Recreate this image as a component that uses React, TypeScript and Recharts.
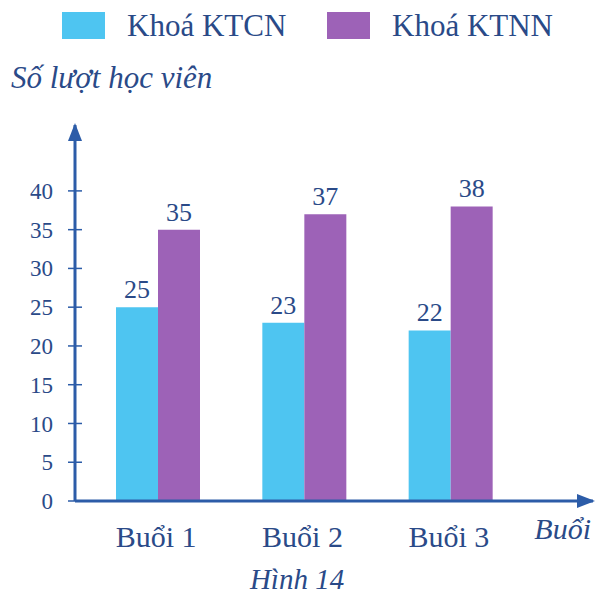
import React from 'react';
import { BarChart, Bar, XAxis, YAxis, LabelList } from 'recharts';

const sessions = ['Buổi 1', 'Buổi 2', 'Buổi 3'];
const ktcn = [25, 23, 22];
const ktnn = [35, 37, 38];
const yTicks = [0, 5, 10, 15, 20, 25, 30, 35, 40];
const seriesNames = ['Khoá KTCN', 'Khoá KTNN'];
const seriesColors = ['#4ec5f1', '#9d62b7'];
const yTitle = 'Số lượt học viên';
const xTitle = 'Buổi';
const caption = 'Hình 14';

const data = sessions.map((s, i) => ({ name: s, ktcn: ktcn[i], ktnn: ktnn[i] }));

const TEXT = '#2a4a88';
const AXIS = '#2c5ca8';
const FONT = "'Liberation Serif'";

const YTick = (props: any) => {
  const { x, y, payload } = props;
  return (
    <g>
      <line x1={x - 7} x2={x + 7} y1={y} y2={y} stroke={AXIS} strokeWidth={1.5} />
      <text x={x - 22} y={y} dy="0.35em" textAnchor="end" fill={TEXT} fontSize={23} style={{ fontFamily: FONT }}>
        {payload.value}
      </text>
    </g>
  );
};

const XTick = (props: any) => {
  const { x, y, payload } = props;
  return (
    <text x={x - 2} y={y + 38} textAnchor="middle" fill={TEXT} fontSize={30} style={{ fontFamily: FONT }}>
      {payload.value}
    </text>
  );
};

const YTitle = (props: any) => {
  const { viewBox } = props;
  return (
    <text x={viewBox.x - 63} y={viewBox.y - 37} fill={TEXT} fontSize={31} fontStyle="italic" style={{ fontFamily: FONT }}>
      {yTitle}
    </text>
  );
};

const XTitle = (props: any) => {
  const { viewBox } = props;
  return (
    <g>
      <text x={viewBox.x + viewBox.width - 2} y={viewBox.y + 38} textAnchor="end" fill={TEXT} fontSize={30} fontStyle="italic" style={{ fontFamily: FONT }}>
        {xTitle}
      </text>
      <text x={viewBox.x + 222} y={viewBox.y + 88} textAnchor="middle" fill={TEXT} fontSize={29} fontStyle="italic" style={{ fontFamily: FONT }}>
        {caption}
      </text>
    </g>
  );
};

export default function App() {
  return (
    <div style={{ position: 'absolute', left: 0, top: 0, width: 605, height: 595, background: '#fff', fontFamily: FONT }}>
      <svg width={0} height={0} style={{ position: 'absolute' }}>
        <defs>
          <marker id="arrowHead" viewBox="0 0 18 14" markerWidth={18} markerHeight={14} refX={16} refY={7} orient="auto-start-reverse" markerUnits="userSpaceOnUse">
            <path d="M0,0 L18,7 L0,14 z" fill={AXIS} />
          </marker>
        </defs>
      </svg>
      <div style={{ position: 'absolute', left: 0, top: 0, width: 605, height: 50, color: TEXT, fontSize: 31, fontFamily: FONT }}>
        {seriesNames.map((n, i) => (
          <div key={n} style={{ position: 'absolute', left: i === 0 ? 62 : 327, top: 12, display: 'flex', alignItems: 'center' }}>
            <div style={{ width: 43, height: 27, background: seriesColors[i], marginRight: 22 }} />
            <span style={{ lineHeight: '27px', fontFamily: FONT }}>{n}</span>
          </div>
        ))}
      </div>
      <BarChart
        width={605}
        height={595}
        data={data}
        margin={{ top: 125, right: 12, bottom: 0, left: 74 }}
        barGap={0}
        barSize={42}
        style={{ fontFamily: FONT }}
      >
        <XAxis
          dataKey="name"
          height={94}
          padding={{ left: 10, right: 69 }}
          tickLine={false}
          tick={<XTick />}
          axisLine={{ stroke: AXIS, strokeWidth: 3, markerEnd: 'url(#arrowHead)' }}
          label={<XTitle />}
          interval={0}
        />
        <YAxis
          width={1}
          domain={[0, 48.5]}
          ticks={yTicks}
          tickLine={false}
          tickSize={0}
          tickMargin={0}
          tick={<YTick />}
          axisLine={{ stroke: AXIS, strokeWidth: 3, markerStart: 'url(#arrowHead)' }}
          label={<YTitle />}
          interval={0}
        />
        <Bar dataKey="ktcn" fill={seriesColors[0]} isAnimationActive={false}>
          <LabelList dataKey="ktcn" position="top" offset={9} fill={TEXT} fontSize={26} style={{ fontFamily: FONT }} />
        </Bar>
        <Bar dataKey="ktnn" fill={seriesColors[1]} isAnimationActive={false}>
          <LabelList dataKey="ktnn" position="top" offset={9} fill={TEXT} fontSize={26} style={{ fontFamily: FONT }} />
        </Bar>
      </BarChart>
    </div>
  );
}
